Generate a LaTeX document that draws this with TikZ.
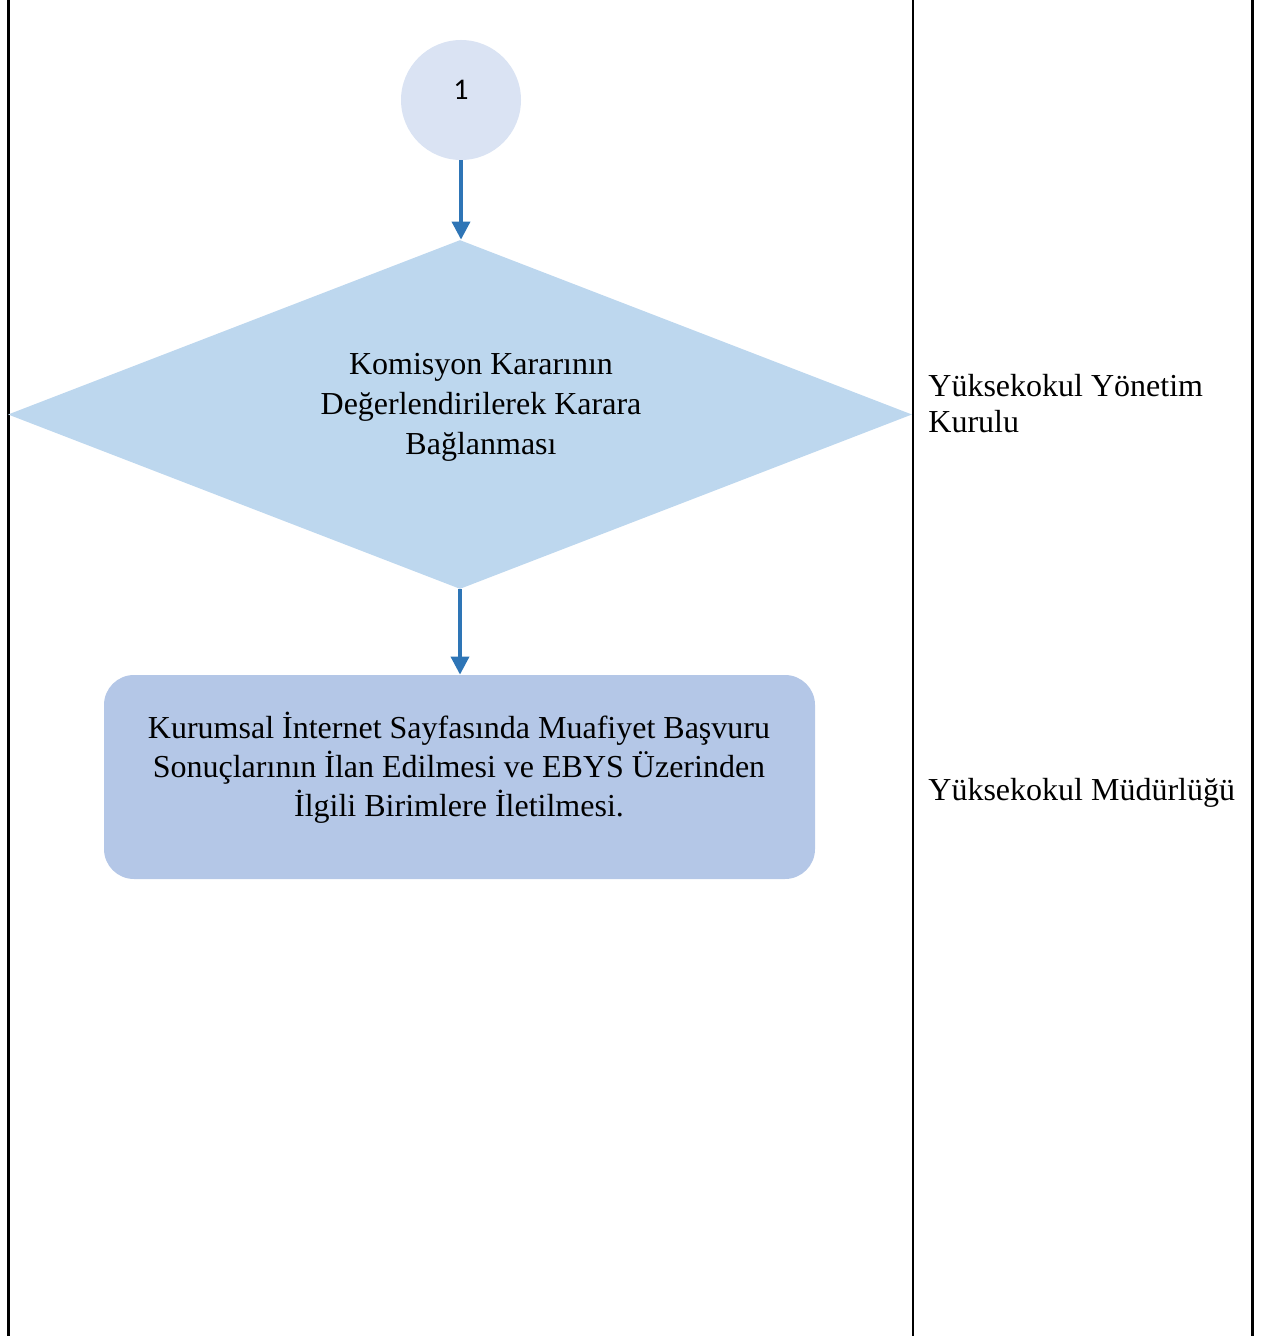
\documentclass[tikz,border=0pt]{standalone}
\usepackage{fontspec}
\setmainfont{Liberation Serif}
\newfontfamily\calib{Carlito}
\usetikzlibrary{shapes.geometric,arrows.meta}
\definecolor{circfill}{HTML}{DAE3F3}
\definecolor{diafill}{HTML}{BDD7EE}
\definecolor{boxfill}{HTML}{B4C7E7}
\definecolor{arrowc}{HTML}{2E75B6}
\tikzset{
  flow/.style={draw=arrowc, line width=1.8pt, -{Triangle[width=9pt,length=9pt]}},
  lane/.style={draw=black},
  shapetext/.style={align=center, font=\fontsize{16}{20}\selectfont, inner sep=0pt},
  lanetext/.style={align=left, anchor=west, font=\fontsize{16}{18}\selectfont, inner sep=0pt},
}
\begin{document}
\begin{tikzpicture}[x=0.5pt, y=-0.5pt]
\useasboundingbox (0,0) rectangle (1260,1336);
% lane lines
\draw[lane, line width=1.5pt] (8,0) -- (8,1336);
\draw[lane, line width=1pt] (913,0) -- (913,1336);
\draw[lane, line width=1.5pt] (1252,0) -- (1252,1336);
% connector circle
\node[circle, fill=circfill, minimum size=60pt, inner sep=0pt] (c1) at (461,100) {};
\node[font=\calib\fontsize{15}{18}\selectfont, inner sep=0pt] (c1t) at (461,90) {1};
% decision
\node[diamond, fill=diafill, minimum width=452pt, minimum height=174.5pt, inner sep=0pt] (d1) at (460,414.5) {};
\node[shapetext] (d1t) at (481,407) {Komisyon Kararının\\Değerlendirilerek Karara\\Bağlanması};
% process box
\node[rectangle, rounded corners=15pt, fill=boxfill, minimum width=355.5pt, minimum height=102pt, inner sep=0pt] (b1) at (459.5,777) {};
\node[shapetext, font=\fontsize{16}{19.5}\selectfont] (b1t) at (459,768) {Kurumsal İnternet Sayfasında Muafiyet Başvuru\\Sonuçlarının İlan Edilmesi ve EBYS Üzerinden\\İlgili Birimlere İletilmesi.};
% arrows
\draw[flow] (c1.south) -- (c1.south |- d1.north);
\draw[flow] (d1.south) -- (d1.south |- b1.north);
% lane labels
\node[lanetext] (l1) at (928,404) {Yüksekokul Yönetim\\Kurulu};
\node[lanetext] (l2) at (928,793) {Yüksekokul Müdürlüğü};
\end{tikzpicture}
\end{document}
